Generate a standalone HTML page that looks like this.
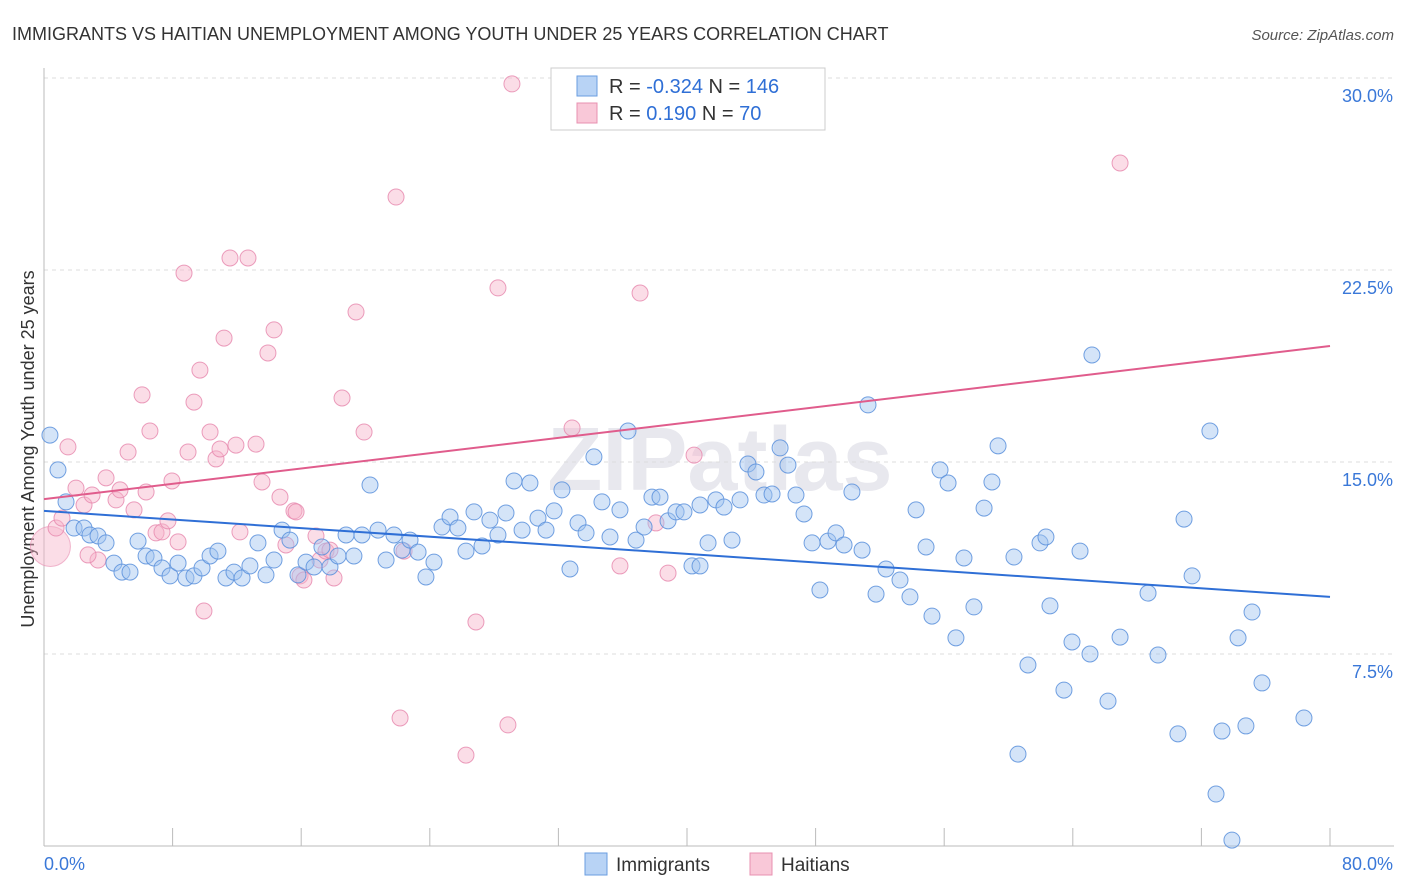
<!DOCTYPE html>
<html><head><meta charset="utf-8"><style>
body{margin:0;background:#fff;font-family:"Liberation Sans",sans-serif;}
#wrap{position:relative;width:1406px;height:892px;overflow:hidden;}
svg text{font-family:"Liberation Sans",sans-serif;}
</style></head><body>
<div id="wrap">
<svg id="chart" width="1406" height="892">
<text x="12" y="40" font-size="18" fill="#333">IMMIGRANTS VS HAITIAN UNEMPLOYMENT AMONG YOUTH UNDER 25 YEARS CORRELATION CHART</text>
<text x="1394" y="40" font-size="15" fill="#555" font-style="italic" text-anchor="end">Source: ZipAtlas.com</text>
<text x="40" y="455" font-size="18" fill="#333" transform="rotate(-90 34 455)" text-anchor="middle">Unemployment Among Youth under 25 years</text>
<text x="720" y="490" font-size="90" fill="#e8e8ee" text-anchor="middle" font-weight="bold">ZIPatlas</text>
<g id="grid"></g><g id="pts"></g><g id="trend"></g>
<g>
<rect x="551" y="68" width="274" height="62" fill="#fff" stroke="#ccc"/>
<rect x="577" y="76" width="20" height="20" fill="#b8d3f5" stroke="#6a9ee0"/>
<rect x="577" y="103" width="20" height="20" fill="#f9c8d8" stroke="#e890b0"/>
<text x="609" y="93" font-size="20" fill="#333">R = <tspan fill="#2f6fd6">-0.324</tspan>   N = <tspan fill="#2f6fd6">146</tspan></text>
<text x="609" y="120" font-size="20" fill="#333">R =   <tspan fill="#2f6fd6">0.190</tspan>   N =   <tspan fill="#2f6fd6">70</tspan></text>
</g>
<g>
<rect x="585" y="853" width="22" height="22" fill="#b8d3f5" stroke="#6a9ee0"/>
<text x="616" y="871" font-size="19" fill="#333">Immigrants</text>
<rect x="750" y="853" width="22" height="22" fill="#f9c8d8" stroke="#e890b0"/>
<text x="781" y="871" font-size="19" fill="#333">Haitians</text>
</g>
</svg></div>
<script>
const xTicks=[0,8,16,24,32,40,48,56,64,72,80];
const yTicks=[7.5,15,22.5,30];
const yTickLabels=["7.5%","15.0%","22.5%","30.0%"];
const xEndLabels=["0.0%","80.0%"];
const bluePx=[[50,435],[58,470],[66,502],[74,528],[84,528],[90,535],[98,536],[106,543],[114,563],[122,572],[130,572],[138,541],[146,556],[154,558],[162,568],[170,576],[178,563],[186,578],[194,576],[202,568],[210,556],[218,551],[226,578],[234,572],[242,578],[250,566],[258,543],[266,575],[274,560],[282,530],[290,540],[298,575],[306,562],[314,567],[322,547],[330,567],[338,556],[346,535],[354,556],[362,535],[370,485],[378,530],[386,560],[394,535],[402,550],[410,540],[418,552],[426,577],[434,562],[442,527],[450,517],[458,528],[466,551],[474,512],[482,546],[490,520],[498,535],[506,513],[514,481],[522,530],[530,483],[538,518],[546,530],[554,511],[562,490],[570,569],[578,523],[586,533],[594,457],[602,502],[610,537],[620,510],[628,431],[636,540],[644,527],[652,497],[660,497],[668,521],[676,512],[684,512],[692,566],[700,505],[708,543],[716,500],[724,507],[732,540],[740,500],[748,464],[756,472],[764,495],[772,494],[780,448],[788,465],[796,495],[804,514],[812,543],[820,590],[828,541],[836,533],[844,545],[852,492],[862,550],[868,405],[886,569],[876,594],[900,580],[910,597],[916,510],[926,547],[932,616],[940,470],[948,483],[956,638],[964,558],[974,607],[984,508],[992,482],[998,446],[1014,557],[1028,665],[1040,543],[1046,537],[1050,606],[1064,690],[1072,642],[1080,551],[1090,654],[1092,355],[1108,701],[1120,637],[1148,593],[1158,655],[1178,734],[1184,519],[1192,576],[1210,431],[1216,794],[1222,731],[1232,840],[1238,638],[1246,726],[1252,612],[1262,683],[1304,718],[1018,754],[700,566]];
const pinkPx=[[56,528],[62,518],[68,447],[76,488],[84,505],[92,495],[98,560],[106,478],[116,500],[120,490],[128,452],[134,510],[142,395],[146,492],[150,431],[156,533],[162,532],[168,521],[172,481],[178,542],[184,273],[188,452],[194,402],[200,370],[204,611],[210,432],[216,459],[220,449],[224,338],[230,258],[236,445],[240,532],[248,258],[256,444],[262,482],[268,353],[274,330],[280,497],[286,545],[294,511],[300,576],[304,580],[316,536],[320,560],[326,551],[334,578],[342,398],[356,312],[364,432],[396,197],[400,718],[404,551],[466,755],[476,622],[498,288],[512,84],[508,725],[572,428],[620,566],[640,293],[668,573],[694,455],[1120,163],[656,523],[88,555],[330,550],[296,512]];
// data values (percent) derived from the reading
const blueX=bluePx.map(p=>+((p[0]-44)/1286*80).toFixed(2));
const blueY=bluePx.map(p=>+((846-p[1])/768*30).toFixed(2));
const pinkX=pinkPx.map(p=>+((p[0]-44)/1286*80).toFixed(2));
const pinkY=pinkPx.map(p=>+((846-p[1])/768*30).toFixed(2));
const blueTrend=[13.09,9.73];
const pinkTrend=[13.55,19.53];
const X=v=>44+v/80*1286, Y=v=>846-v/30*768;
const NS="http://www.w3.org/2000/svg";
function mk(tag,attrs,parent){const e=document.createElementNS(NS,tag);for(const k in attrs)e.setAttribute(k,attrs[k]);parent.appendChild(e);return e;}
const grid=document.getElementById('grid');
yTicks.forEach((t,i)=>{
 const l=mk('line',{x1:44,x2:1394,y1:Y(t),y2:Y(t),stroke:'#ddd','stroke-dasharray':'4,4'},grid);
 
 
 const tx=mk('text',{x:1393,y:Y(t)+24,'font-size':18,fill:'#3a78d8','text-anchor':'end'},grid);
 tx.textContent=yTickLabels[i];
 
 
});
const ax=mk('line',{x1:44,x2:1394,y1:846,y2:846,stroke:'#bbb'},grid);


const ay=mk('line',{x1:44,x2:44,y1:68,y2:846,stroke:'#bbb'},grid);


xTicks.forEach(t=>{
 const l=mk('line',{x1:X(t),x2:X(t),y1:828,y2:846,stroke:'#bbb'},grid);
 
 
});
const xl0=mk('text',{x:44,y:870,'font-size':18,fill:'#3a78d8'},grid);xl0.textContent=xEndLabels[0];


const xl1=mk('text',{x:1393,y:870,'font-size':18,fill:'#3a78d8','text-anchor':'end'},grid);xl1.textContent=xEndLabels[1];


const pts=document.getElementById('pts');
const big=mk('circle',{cx:X(0.4),cy:Y(11.7),r:20,fill:'rgba(246,180,202,0.45)',stroke:'rgba(232,140,176,0.6)'},pts);


pinkX.forEach((x,i)=>{
 const c=mk('circle',{cx:X(x),cy:Y(pinkY[i]),r:8,fill:'rgba(246,180,202,0.45)',stroke:'rgba(232,140,176,0.85)','stroke-width':1},pts);
 
 
});
blueX.forEach((x,i)=>{
 const c=mk('circle',{cx:X(x),cy:Y(blueY[i]),r:8,fill:'rgba(160,196,240,0.45)',stroke:'rgba(90,145,220,0.85)','stroke-width':1},pts);
 
 
});
const tr=document.getElementById('trend');
const bl=mk('line',{x1:X(0),y1:Y(blueTrend[0]),x2:X(80),y2:Y(blueTrend[1]),stroke:'#2f6fd6','stroke-width':2},tr);


const pl=mk('line',{x1:X(0),y1:Y(pinkTrend[0]),x2:X(80),y2:Y(pinkTrend[1]),stroke:'#e05c8c','stroke-width':2},tr);


</script>
</body></html>
